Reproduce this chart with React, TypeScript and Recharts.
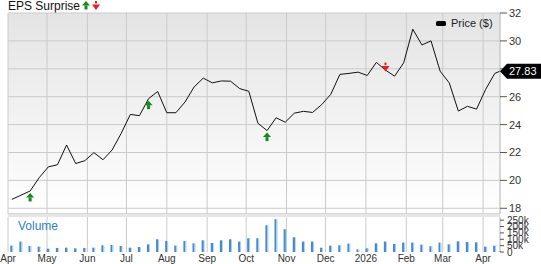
import {
  Bar,
  CartesianGrid,
  ComposedChart,
  Legend,
  Line,
  ReferenceDot,
  ReferenceLine,
  XAxis,
  YAxis,
} from "recharts";

// weekly closes, Apr 2025 - Apr 2026
const weekDates = [
  "2025-04-04", "2025-04-11", "2025-04-18", "2025-04-25", "2025-05-02", "2025-05-09",
  "2025-05-16", "2025-05-23", "2025-05-30", "2025-06-06", "2025-06-13", "2025-06-20",
  "2025-06-27", "2025-07-04", "2025-07-11", "2025-07-18", "2025-07-25", "2025-08-01",
  "2025-08-08", "2025-08-15", "2025-08-22", "2025-08-29", "2025-09-05", "2025-09-12",
  "2025-09-19", "2025-09-26", "2025-10-03", "2025-10-10", "2025-10-17", "2025-10-24",
  "2025-10-31", "2025-11-07", "2025-11-14", "2025-11-21", "2025-11-28", "2025-12-05",
  "2025-12-12", "2025-12-19", "2025-12-26", "2026-01-02", "2026-01-09", "2026-01-16",
  "2026-01-23", "2026-01-30", "2026-02-06", "2026-02-13", "2026-02-20", "2026-02-27",
  "2026-03-06", "2026-03-13", "2026-03-20", "2026-03-27", "2026-04-03", "2026-04-10",
];

const weeklyClose = [
  18.64, 18.94, 19.24, 20.2, 20.97, 21.12, 22.54, 21.21, 21.41, 21.99, 21.48, 22.18,
  23.38, 24.73, 24.64, 25.86, 26.37, 24.85, 24.85, 25.62, 26.7, 27.33, 26.99, 27.13,
  27.11, 26.58, 26.39, 24.1, 23.57, 24.49, 24.17, 24.82, 24.95, 24.87, 25.43, 26.17,
  27.6, 27.67, 27.76, 27.52, 28.46, 27.91, 27.47, 28.43, 30.84, 29.71, 30.0, 27.83,
  26.99, 24.97, 25.31, 25.11, 26.53, 27.67,
];

const weeklyVolume = [
  50000, 82000, 47000, 42000, 26000, 32000, 34000, 29000, 32000, 34000, 53000, 55000,
  47000, 34000, 39000, 60000, 100000, 87000, 50000, 87000, 68000, 92000, 71000, 92000,
  100000, 82000, 108000, 108000, 210000, 258000, 179000, 116000, 82000, 82000, 34000, 50000,
  53000, 66000, 21000, 29000, 68000, 82000, 63000, 74000, 74000, 58000, 45000, 74000,
  60000, 84000, 79000, 76000, 42000, 50000,
];

const lastDate = "2026-04-14";
const lastPrice = 27.83;
const lastVolume = 5000;

const epsSurprises = [
  { date: "2025-04-18", dir: "up" },
  { date: "2025-07-18", dir: "up" },
  { date: "2025-10-17", dir: "up" },
  { date: "2026-01-16", dir: "down" },
];

const monthStarts = [
  "2025-04-01", "2025-05-01", "2025-06-01", "2025-07-01", "2025-08-01", "2025-09-01",
  "2025-10-01", "2025-11-01", "2025-12-01", "2026-01-01", "2026-02-01", "2026-03-01",
  "2026-04-01",
];
const monthLabels = [
  "Apr", "May", "Jun", "Jul", "Aug", "Sep", "Oct", "Nov", "Dec", "2026", "Feb", "Mar", "Apr",
];

const priceTicks = [18, 20, 22, 24, 26, 28, 30, 32];
const volumeTicks = [0, 50000, 100000, 150000, 200000, 250000];

const ORIGIN = Date.parse("2025-04-01");
const toDay = (d: string) => Math.round((Date.parse(d) - ORIGIN) / 86400000);

const rows = [
  ...weekDates.map((d, i) => ({
    day: toDay(d),
    price: weeklyClose[i],
    volume: weeklyVolume[i],
    eps: epsSurprises.find((e) => e.date === d)?.dir,
  })),
  { day: toDay(lastDate), price: lastPrice, volume: lastVolume, eps: undefined },
];

const monthTicks = monthStarts.map(toDay);
const labelFor = (day: number) => monthLabels[monthTicks.indexOf(day)] ?? "";
const X_DOMAIN = [0, toDay(lastDate)];

const FONT = "'Liberation Sans', Arial, sans-serif";
const GRID = "#cacaca";
const UP = "#138a1d";
const DOWN = "#ec1c24";

function UpArrow({ x, y }: { x: number; y: number }) {
  return (
    <g fill={UP}>
      <polygon points={`${x},${y} ${x - 4},${y + 4.5} ${x + 4},${y + 4.5}`} />
      <rect x={x - 1.5} y={y + 4.5} width={3} height={4} />
    </g>
  );
}

function DownArrow({ x, y }: { x: number; y: number }) {
  return (
    <g fill={DOWN}>
      <rect x={x - 1} y={y - 9} width={2} height={2.5} />
      <polygon points={`${x - 4},${y - 5.5} ${x + 4},${y - 5.5} ${x},${y}`} />
    </g>
  );
}

function EpsDot(props: any) {
  const { cx, cy, payload, index } = props;
  if (payload?.eps === "up") return <UpArrow key={index} x={cx} y={cy + 2} />;
  if (payload?.eps === "down") return <DownArrow key={index} x={cx} y={cy + 1.5} />;
  return <g key={index} />;
}

function PriceBadge(props: any) {
  const { cx, cy } = props;
  return (
    <g>
      <polygon
        points={`${cx},${cy} ${cx + 7},${cy - 7.5} ${cx + 41},${cy - 7.5} ${cx + 41},${cy + 7.5} ${cx + 7},${cy + 7.5}`}
        fill="#000"
      />
      <text x={cx + 9} y={cy + 4} fill="#fff" fontSize={11} fontFamily={FONT}>
        {lastPrice.toFixed(2)}
      </text>
    </g>
  );
}

// the last-price badge sits where the 28 label would be
function PriceTick(props: any) {
  const { x, y, payload } = props;
  if (Math.abs(payload.value - lastPrice) < 1) return <g />;
  return (
    <text x={x} y={y} dy={4} fontSize={11} fill="#333" fontFamily={FONT}>
      {payload.value}
    </text>
  );
}

function PriceLegend() {
  return (
    <div style={{ display: "flex", alignItems: "center", fontSize: 11, color: "#222", fontFamily: FONT }}>
      <span style={{ width: 10, height: 5, background: "#000", borderRadius: 1.5, marginRight: 5 }} />
      Price ($)
    </div>
  );
}

export default function App() {
  return (
    <div
      style={{
        position: "fixed",
        left: 0,
        top: 0,
        width: 541,
        height: 264,
        background: "#fff",
        fontFamily: FONT,
        overflow: "hidden",
      }}
    >
      <div style={{ position: "absolute", left: 8, top: 0, fontSize: 12, lineHeight: "12px", color: "#111", display: "flex", alignItems: "center" }}>
        EPS Surprise
        <svg width={20} height={12} style={{ marginLeft: 1 }}>
          <UpArrow x={5} y={1} />
          <DownArrow x={15} y={10} />
        </svg>
      </div>

      <div style={{ position: "absolute", left: 0, top: 0 }}>
        <ComposedChart width={541} height={214} data={rows} margin={{ top: 13, right: 0, left: 8, bottom: 0 }}>
          <defs>
            <linearGradient id="priceBg" x1="0" y1="0" x2="0" y2="1">
              <stop offset="0" stopColor="#e4e4e4" />
              <stop offset="1" stopColor="#ffffff" />
            </linearGradient>
          </defs>
          <CartesianGrid stroke={GRID} fill="url(#priceBg)" />
          <XAxis type="number" dataKey="day" domain={X_DOMAIN} ticks={monthTicks} hide />
          <YAxis
            orientation="right"
            width={41}
            domain={[17.59, 32]}
            ticks={priceTicks}
            interval={0}
            allowDataOverflow
            tick={<PriceTick />}
            tickSize={7}
            tickMargin={2}
            tickLine={{ stroke: "#555" }}
            axisLine={{ stroke: GRID }}
          />
          <ReferenceLine y={17.59} stroke={GRID} />
          <Legend
            layout="horizontal"
            verticalAlign="middle"
            align="center"
            content={<PriceLegend />}
            wrapperStyle={{ top: 17, left: 436, width: 70 }}
          />
          <Line
            type="linear"
            dataKey="price"
            stroke="#111"
            strokeWidth={1}
            dot={<EpsDot />}
            activeDot={false}
            isAnimationActive={false}
          />
          <ReferenceDot x={toDay(lastDate)} y={lastPrice} r={0} shape={<PriceBadge />} ifOverflow="visible" />
        </ComposedChart>
      </div>

      <div style={{ position: "absolute", left: 8, top: 214, width: 492, height: 3, background: "#e6e6e6" }} />

      <div style={{ position: "absolute", left: 0, top: 215 }}>
        <ComposedChart width={541} height={49} data={rows} margin={{ top: 2, right: 0, left: 8, bottom: 0 }}>
          <defs>
            <linearGradient id="volFill" x1="0" y1="0" x2="1" y2="0">
              <stop offset="0" stopColor="#3d85cb" />
              <stop offset="0.6" stopColor="#4a8fd2" />
              <stop offset="0.65" stopColor="#a9cdee" />
              <stop offset="1" stopColor="#a9cdee" />
            </linearGradient>
          </defs>
          <CartesianGrid stroke={GRID} horizontal={false} />
          <XAxis
            type="number"
            dataKey="day"
            domain={X_DOMAIN}
            ticks={monthTicks}
            interval={0}
            tickFormatter={labelFor}
            height={12}
            tickSize={0}
            tickMargin={3}
            axisLine={false}
            tickLine={false}
            tick={{ fontSize: 10, fill: "#333", fontFamily: FONT }}
          />
          <YAxis
            orientation="right"
            width={41}
            domain={[0, 275000]}
            ticks={volumeTicks}
            interval={0}
            tickFormatter={(v: number) => (v === 0 ? "0" : `${v / 1000}k`)}
            tick={{ fontSize: 10, fill: "#333", fontFamily: FONT }}
            tickSize={4}
            tickMargin={3}
            tickLine={{ stroke: "#555" }}
            axisLine={{ stroke: GRID }}
          />
          <Bar dataKey="volume" barSize={3} fill="url(#volFill)" isAnimationActive={false} />
        </ComposedChart>
      </div>

      <div style={{ position: "absolute", left: 18, top: 219, fontSize: 12, lineHeight: "14px", color: "#2f80c8" }}>
        Volume
      </div>
    </div>
  );
}
